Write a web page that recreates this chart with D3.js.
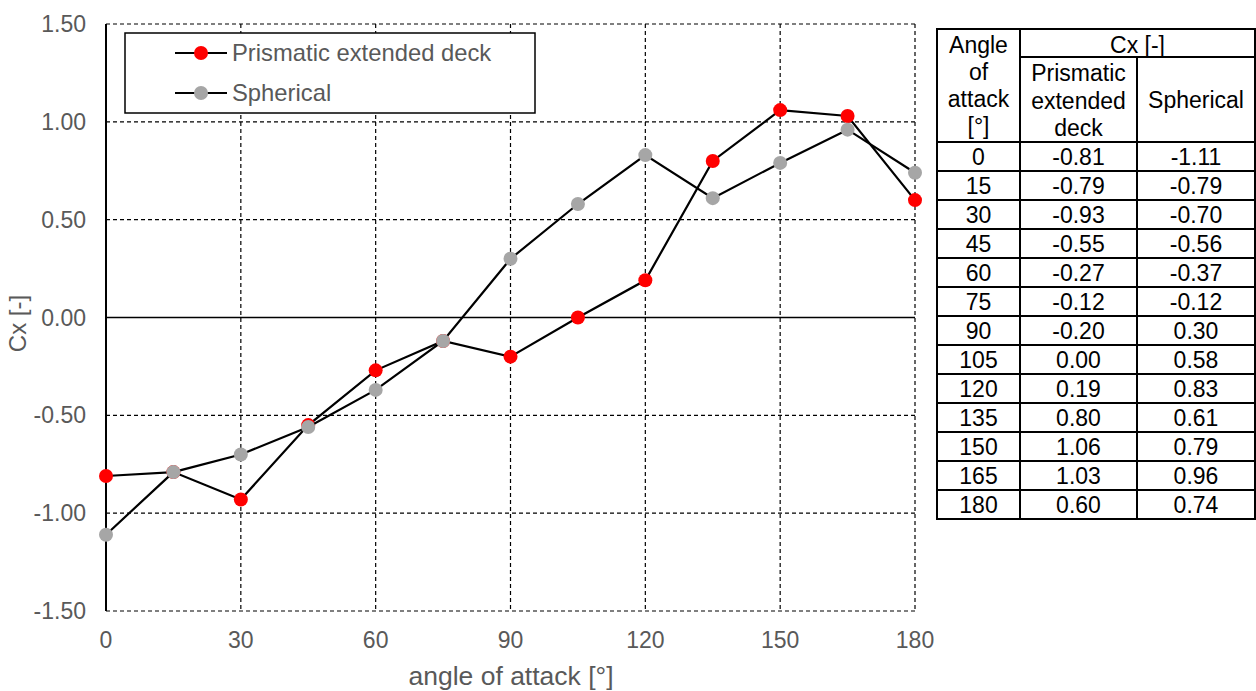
<!DOCTYPE html>
<html>
<head>
<meta charset="utf-8">
<script src="https://cdn.jsdelivr.net/npm/d3@7"></script>
<style>
  body { margin: 0; background: #fff; }
  svg { font-family: "Liberation Sans", Arial, sans-serif; }
</style>
</head>
<body>
<svg id="chart" width="1256" height="691"></svg>
<script>
const angles = [0, 15, 30, 45, 60, 75, 90, 105, 120, 135, 150, 165, 180];
const prismatic = [-0.81, -0.79, -0.93, -0.55, -0.27, -0.12, -0.20, 0.00, 0.19, 0.80, 1.06, 1.03, 0.60];
const spherical = [-1.11, -0.79, -0.70, -0.56, -0.37, -0.12, 0.30, 0.58, 0.83, 0.61, 0.79, 0.96, 0.74];
const xTicks = [0, 30, 60, 90, 120, 150, 180];
const yTicks = [-1.5, -1.0, -0.5, 0, 0.5, 1.0, 1.5];
const seriesNames = ["Prismatic extended deck", "Spherical"];
const seriesColors = ["#ff0000", "#a6a6a6"];

const svg = d3.select("#chart");
const grey = "#595959";

// plot area
const pLeft = 106, pRight = 915, pTop = 24, pBottom = 611;
const x = d3.scaleLinear().domain([0, 180]).range([pLeft, pRight]);
const y = d3.scaleLinear().domain([-1.5, 1.5]).range([pBottom, pTop]);

// gridlines (dashed)
svg.append("g").selectAll("line")
  .data(xTicks.filter(d => d !== 0))
  .enter().append("line")
  .attr("x1", d => x(d)).attr("x2", d => x(d))
  .attr("y1", pTop).attr("y2", pBottom)
  .attr("stroke", "#000").attr("stroke-width", 1.2)
  .attr("stroke-dasharray", "4,3");

svg.append("g").selectAll("line")
  .data(yTicks.filter(d => d !== 0))
  .enter().append("line")
  .attr("x1", pLeft).attr("x2", pRight)
  .attr("y1", d => y(d)).attr("y2", d => y(d))
  .attr("stroke", "#000").attr("stroke-width", 1.2)
  .attr("stroke-dasharray", "4,3");

// zero line and left axis (solid)
svg.append("line")
  .attr("x1", pLeft).attr("x2", pRight)
  .attr("y1", y(0)).attr("y2", y(0))
  .attr("stroke", "#000").attr("stroke-width", 1.5);
svg.append("line")
  .attr("x1", pLeft).attr("x2", pLeft)
  .attr("y1", pTop).attr("y2", pBottom)
  .attr("stroke", "#000").attr("stroke-width", 2);

// tick labels
svg.append("g").selectAll("text")
  .data(yTicks)
  .enter().append("text")
  .attr("x", pLeft - 20).attr("y", d => y(d) + 8)
  .attr("text-anchor", "end")
  .attr("font-size", 23).attr("fill", grey)
  .text(d => d.toFixed(2));

svg.append("g").selectAll("text")
  .data(xTicks)
  .enter().append("text")
  .attr("x", d => x(d)).attr("y", pBottom + 37)
  .attr("text-anchor", "middle")
  .attr("font-size", 23).attr("fill", grey)
  .text(d => d);

// axis titles
svg.append("text")
  .attr("x", 511).attr("y", 685)
  .attr("text-anchor", "middle")
  .attr("font-size", 26.5).attr("fill", grey)
  .text("angle of attack [°]");

svg.append("text")
  .attr("transform", `translate(26,${y(0) + 6}) rotate(-90)`)
  .attr("text-anchor", "middle")
  .attr("font-size", 24).attr("fill", grey)
  .text("Cx [-]");

// series
const line = d3.line().x(d => x(d[0])).y(d => y(d[1]));
[prismatic, spherical].forEach((vals, k) => {
  const pts = angles.map((a, i) => [a, vals[i]]);
  svg.append("path")
    .datum(pts)
    .attr("d", line)
    .attr("fill", "none").attr("stroke", "#000").attr("stroke-width", 2.2);
  svg.append("g").selectAll("circle")
    .data(pts)
    .enter().append("circle")
    .attr("cx", d => x(d[0])).attr("cy", d => y(d[1]))
    .attr("r", 7)
    .attr("fill", seriesColors[k]);
});

// legend
const lg = svg.append("g");
lg.append("rect")
  .attr("x", 125).attr("y", 33).attr("width", 410).attr("height", 80)
  .attr("fill", "#fff").attr("stroke", "#000").attr("stroke-width", 1.5);
seriesNames.forEach((name, k) => {
  const ly = 53 + k * 40;
  lg.append("line")
    .attr("x1", 175).attr("x2", 227).attr("y1", ly).attr("y2", ly)
    .attr("stroke", "#000").attr("stroke-width", 2.2);
  lg.append("circle")
    .attr("cx", 201).attr("cy", ly).attr("r", 7)
    .attr("fill", seriesColors[k]);
  lg.append("text")
    .attr("x", 232).attr("y", ly + 8)
    .attr("font-size", 23.8).attr("fill", grey)
    .text(name);
});

// data table
const tx = [937, 1020, 1137, 1255];
const tTop = 29, h1 = 57, h2 = 142, rowH = 29;
const tBottom = h2 + rowH * angles.length;
const tg = svg.append("g");

// table borders
tg.append("rect")
  .attr("x", tx[0]).attr("y", tTop)
  .attr("width", tx[3] - tx[0]).attr("height", tBottom - tTop)
  .attr("fill", "none").attr("stroke", "#000").attr("stroke-width", 2);
tg.append("line").attr("x1", tx[1]).attr("x2", tx[1]).attr("y1", tTop).attr("y2", tBottom)
  .attr("stroke", "#000").attr("stroke-width", 2);
tg.append("line").attr("x1", tx[2]).attr("x2", tx[2]).attr("y1", h1).attr("y2", tBottom)
  .attr("stroke", "#000").attr("stroke-width", 2);
tg.append("line").attr("x1", tx[1]).attr("x2", tx[3]).attr("y1", h1).attr("y2", h1)
  .attr("stroke", "#000").attr("stroke-width", 2);
tg.selectAll(".rowline")
  .data(d3.range(angles.length))
  .enter().append("line")
  .attr("x1", tx[0]).attr("x2", tx[3])
  .attr("y1", i => h2 + i * rowH).attr("y2", i => h2 + i * rowH)
  .attr("stroke", "#000").attr("stroke-width", 2);

// header text
const cx0 = (tx[0] + tx[1]) / 2, cx1 = (tx[1] + tx[2]) / 2, cx2 = (tx[2] + tx[3]) / 2;
const cellTxt = (xx, yy, t) => tg.append("text")
  .attr("x", xx).attr("y", yy).attr("text-anchor", "middle")
  .attr("font-size", 23).attr("fill", "#000").text(t);
["Angle", "of", "attack", "[°]"].forEach((t, i) => cellTxt(cx0, 53 + i * 27, t));
cellTxt((tx[1] + tx[3]) / 2, 53, "Cx [-]");
["Prismatic", "extended", "deck"].forEach((t, i) => cellTxt(cx1, 81 + i * 27.5, t));
cellTxt(cx2, 108, "Spherical");

// body rows
angles.forEach((a, i) => {
  const ry = h2 + i * rowH + 23;
  cellTxt(cx0, ry, a);
  cellTxt(cx1, ry, prismatic[i].toFixed(2));
  cellTxt(cx2, ry, spherical[i].toFixed(2));
});
</script>
</body>
</html>
